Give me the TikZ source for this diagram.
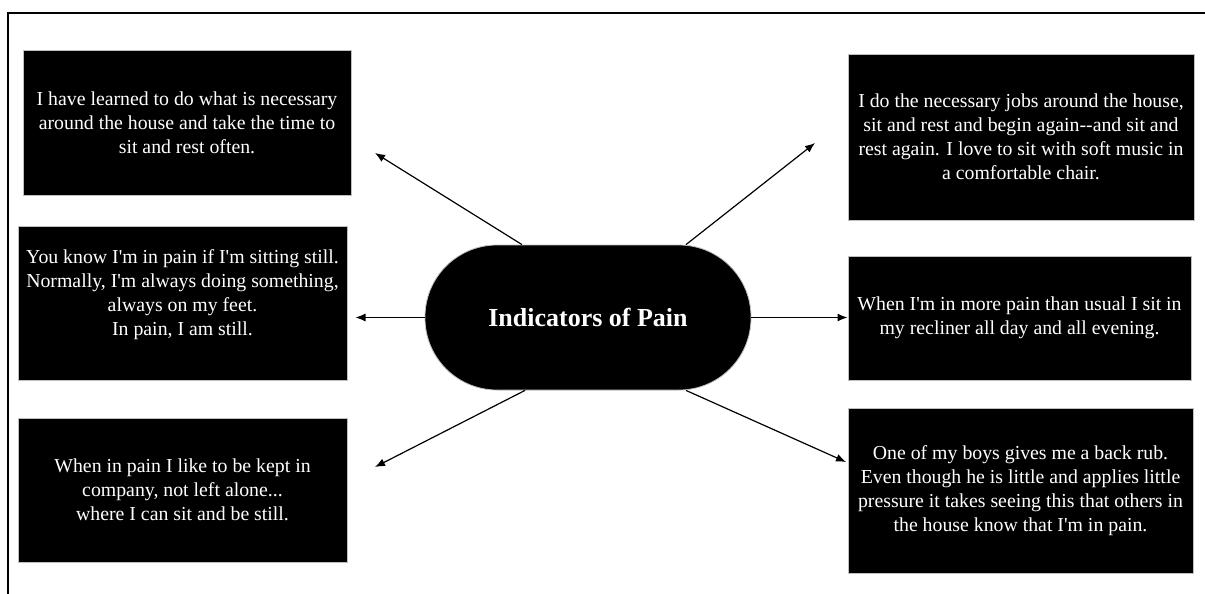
\documentclass[tikz,border=0pt]{standalone}
\usepackage{fontspec}
\setmainfont{Liberation Serif}[Ligatures=TeXOff]
\usetikzlibrary{arrows.meta}
\begin{document}
\begin{tikzpicture}[x=0.5pt,y=-0.5pt]

    \tikzset{
      quote/.style={
        fill=black,
        draw=gray!50,
        line width=0.5pt,
        text=white,
        align=center,
        inner sep=0pt,
        font=\fontsize{9.9}{12}\selectfont,
      },
      hub/.style={
        fill=black,
        draw=gray!50,
        text=white,
        rounded corners=36pt,
        minimum width=163pt,
        minimum height=72.5pt,
        font=\bfseries\fontsize{13}{15}\selectfont,
      },
      link/.style={
        -{Latex[length=5pt,width=4pt]},
        line width=0.6pt,
      },
    }
    \useasboundingbox (0,0) rectangle (1205,594);
    \draw[line width=1pt] (8,594)--(8,13)--(1205,13);

    \node[hub] (pill) at (588,317.5) {Indicators of Pain};

    \node[quote, minimum width=164pt, minimum height=72.5pt] (tl) at (187,122.5)
      {I have learned to do what is necessary\\around the house and take the time to\\sit and rest often.};
    \node[quote, minimum width=164.5pt, minimum height=77pt, text depth=10pt] (ml) at (182.5,303)
      {You know I'm in pain if I'm sitting still.\\Normally, I'm always doing something,\\always on my feet.\\In pain, I am still.};
    \node[quote, minimum width=164.5pt, minimum height=72pt] (bl) at (182.5,490)
      {When in pain I like to be kept in\\company, not left alone...\\where I can sit and be still.};
    \node[quote, minimum width=173pt, minimum height=83pt] (tr) at (1021,137)
      {I do the necessary jobs around the house,\\sit and rest and begin again--and sit and\\rest again. I love to sit with soft music in\\a comfortable chair.};
    \node[quote, minimum width=171.5pt, minimum height=62pt] (mr) at (1019.5,318)
      {When I'm in more pain than usual I sit in\\my recliner all day and all evening.};
    \node[quote, minimum width=172.5pt, minimum height=82.5pt] (br) at (1020.5,490.5)
      {One of my boys gives me a back rub.\\Even though he is little and applies little\\pressure it takes seeing this that others in\\the house know that I'm in pain.};

    \coordinate (tlend) at (375,153);
    \coordinate (trend) at (815,143);
    \coordinate (blend) at (375,467);
    \coordinate (brend) at (846,462);

    \draw[link] ([xshift=-33pt]pill.north) -- (tlend);
    \draw[link] ([xshift=49pt]pill.north) -- (trend);
    \draw[link] (pill.west) -- ([xshift=4pt]pill.west -| ml.east);
    \draw[link] (pill.east) -- (pill.east -| mr.west);
    \draw[link] ([xshift=-31.5pt]pill.south) -- (blend);
    \draw[link] ([xshift=49pt]pill.south) -- (brend);

\end{tikzpicture}
\end{document}
